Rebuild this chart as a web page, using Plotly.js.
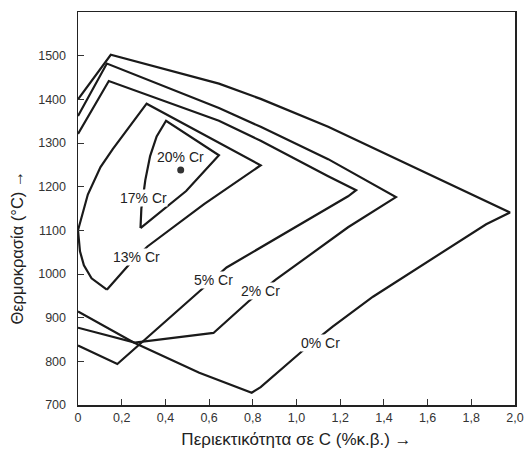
<!DOCTYPE html>
<html>
<head>
<meta charset="utf-8">
<script src="https://cdn.plot.ly/plotly-3.0.1.min.js"></script>
<style>html,body{margin:0;padding:0;background:#fff;}#chart{width:524px;height:450px;}</style>
</head>
<body>
<div id="chart"></div>
<script>
// Carbon content (wt%) and temperature (°C) for each gamma-loop boundary
const cr0_x = [0, 0.15, 0.645, 0.836, 1.145, 1.977, 1.868, 1.595, 1.35, 1.164, 1.032, 0.836, 0.795, 0.555, 0.255, 0];
const cr0_y = [1400, 1502, 1436, 1401, 1337, 1141, 1114, 1026, 948, 879, 826, 741, 728, 774, 843, 914];

const cr2_x = [0, 0.132, 0.645, 0.836, 1.145, 1.455, 1.236, 0.905, 0.78, 0.62, 0.26, 0];
const cr2_y = [1362, 1482, 1380, 1337, 1263, 1176, 1107, 987, 937, 865, 843, 877];

const cr5_x = [0, 0.141, 0.645, 0.836, 1.145, 1.273, 1.236, 0.68, 0.555, 0.18, 0];
const cr5_y = [1321, 1442, 1351, 1305, 1224, 1192, 1178, 1015, 960, 794, 836];

const cr13_x = [0.132, 0.062, 0.027, 0.009, 0, 0.045, 0.103, 0.159, 0.314, 0.836, 0.577, 0.318, 0.241, 0.132];
const cr13_y = [964, 990, 1020, 1052, 1100, 1182, 1245, 1286, 1390, 1249, 1160, 1063, 1026, 964];

const cr17_x = [0.286, 0.29, 0.3, 0.308, 0.33, 0.36, 0.403, 0.645, 0.495, 0.286];
const cr17_y = [1105, 1150, 1185, 1215, 1270, 1315, 1351, 1272, 1190, 1105];

const cr20_x = [0.47];
const cr20_y = [1238];

const labelText = ['20% Cr', '17% Cr', '13% Cr', '5% Cr', '2% Cr', '0% Cr'];
const labelX = [0.468, 0.30, 0.268, 0.618, 0.836, 1.109];
const labelY = [1268, 1174, 1040, 987, 960, 843];
const labelBg = [false, true, true, true, true, true];

const xTickVals = [0, 0.2, 0.4, 0.6, 0.8, 1.0, 1.2, 1.4, 1.6, 1.8, 2.0];
const xTickText = ['0', '0,2', '0,4', '0,6', '0,8', '1,0', '1,2', '1,4', '1,6', '1,8', '2,0'];
const yTickVals = [700, 800, 900, 1000, 1100, 1200, 1300, 1400, 1500];

const xTitle = 'Περιεκτικότητα σε C (%κ.β.) →';
const yTitle = 'Θερμοκρασία (°C) →';

const ink = '#1a1a1a';
const lineStyle = {color: ink, width: 2.2};
function loop(x, y) {
  return {x: x, y: y, type: 'scatter', mode: 'lines', line: lineStyle, hoverinfo: 'skip', showlegend: false};
}
const traces = [
  loop(cr0_x, cr0_y), loop(cr2_x, cr2_y), loop(cr5_x, cr5_y),
  loop(cr13_x, cr13_y), loop(cr17_x, cr17_y),
  {x: cr20_x, y: cr20_y, type: 'scatter', mode: 'markers', marker: {color: '#333', size: 7}, showlegend: false, hoverinfo: 'skip'}
];

const annotations = labelText.map((t, i) => ({
  x: labelX[i], y: labelY[i], xref: 'x', yref: 'y', text: t, showarrow: false,
  font: {family: 'Liberation Sans, Arial, sans-serif', size: 14, color: '#222'},
  bgcolor: labelBg[i] ? '#ffffff' : 'rgba(0,0,0,0)', borderpad: 0
}));
annotations.push({
  x: -0.14, y: 0.4, xref: 'paper', yref: 'paper', xanchor: 'center', yanchor: 'middle',
  text: yTitle, textangle: -90, showarrow: false,
  font: {family: 'Liberation Sans, Arial, sans-serif', size: 16.5, color: '#222'}
});

const layout = {
  width: 524, height: 450,
  margin: {l: 78, r: 9, t: 12, b: 45},
  paper_bgcolor: '#fff', plot_bgcolor: '#fff',
  font: {family: 'Liberation Sans, Arial, sans-serif', color: '#222'},
  showlegend: false,
  xaxis: {
    range: [0, 2.0], tickvals: xTickVals, ticktext: xTickText,
    ticks: 'inside', ticklen: 6, tickwidth: 1, tickcolor: '#333',
    showline: true, mirror: true, linecolor: '#222', linewidth: 1.5,
    showgrid: false, zeroline: false, ticklabeloverflow: 'allow',
    tickfont: {size: 12.5, color: '#333'},
    title: {text: xTitle, font: {size: 17, color: '#222'}, standoff: 9}
  },
  yaxis: {
    range: [700, 1600], tickvals: yTickVals,
    ticks: 'inside', ticklen: 6, tickwidth: 1, tickcolor: '#333',
    showline: true, mirror: true, linecolor: '#222', linewidth: 1.5,
    showgrid: false, zeroline: false,
    tickfont: {size: 12.5, color: '#333'}, ticklabelstandoff: 8
  },
  annotations: annotations
};

Plotly.newPlot('chart', traces, layout, {displayModeBar: false, staticPlot: true});
</script>
</body>
</html>
